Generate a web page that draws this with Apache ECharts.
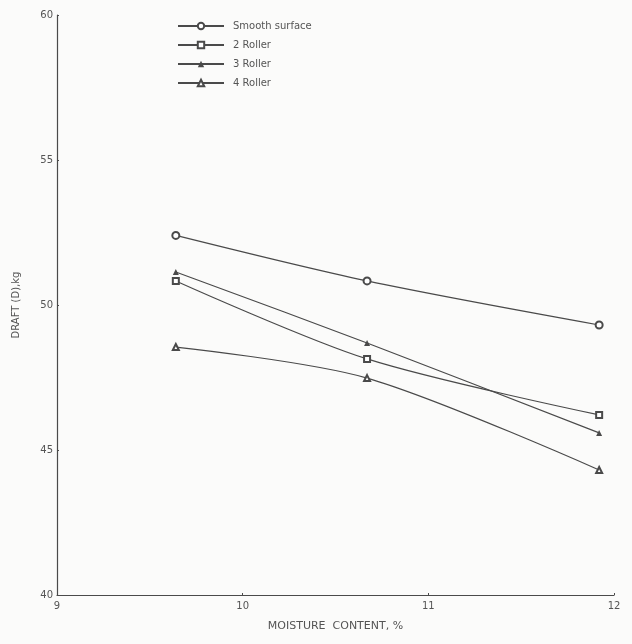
<!DOCTYPE html>
<html>
<head>
<meta charset="utf-8">
<script src="https://cdn.jsdelivr.net/npm/echarts@6/dist/echarts.min.js"></script>
<style>
  html, body { margin: 0; padding: 0; background: #fbfbfa; }
  #grafico { width: 632px; height: 644px; }
</style>
</head>
<body>
<div id="grafico"></div>
<script>
// Datos
const humedad = [9.64, 10.67, 11.92];
const superficieLisa = [52.4, 50.83, 49.31];
const rodillo2 = [50.83, 48.14, 46.21];
const rodillo3 = [51.14, 48.69, 45.59];
const rodillo4 = [48.55, 47.48, 44.31];
const nombres = ['Smooth surface', '2 Roller', '3 Roller', '4 Roller'];
const simbolos = ['emptyCircle', 'emptyRect', 'triangle', 'emptyTriangle'];

const tinta = '#4a4a4a';

function puntos(valores) {
    return humedad.map((x, i) => [x, valores[i]]);
}

const series = [superficieLisa, rodillo2, rodillo3, rodillo4].map((vals, i) => ({
    name: nombres[i],
    type: 'line',
    smooth: 0.3,
    data: puntos(vals),
    symbol: simbolos[i],
    symbolSize: i === 0 ? 7 : 6,
    lineStyle: { color: tinta, width: 1.2 },
    itemStyle: { color: tinta, borderWidth: 1.2 }
}));

const chart = echarts.init(document.getElementById('grafico'));

chart.setOption({
    backgroundColor: '#fbfbfa',
    animation: false,
    textStyle: { fontFamily: 'DejaVu Sans' },
    legend: {
        orient: 'vertical',
        left: 172,
        top: 16,
        itemGap: 9,
        itemWidth: 46,
        itemHeight: 8,
        data: nombres,
        textStyle: { color: '#555', fontSize: 10, padding: [0, 0, 0, 4] }
    },
    grid: { left: 57, right: 18, top: 15, bottom: 49 },
    xAxis: {
        type: 'value',
        min: 9,
        max: 12,
        interval: 1,
        name: 'MOISTURE  CONTENT, %',
        nameLocation: 'middle',
        nameGap: 26,
        nameTextStyle: { color: '#555', fontSize: 11 },
        axisLine: { lineStyle: { color: tinta, width: 1.2 } },
        axisTick: { show: true, length: 2, inside: true, lineStyle: { color: tinta } },
        axisLabel: { color: '#555', fontSize: 10, margin: 6 },
        splitLine: { show: false }
    },
    yAxis: {
        type: 'value',
        min: 40,
        max: 60,
        interval: 5,
        name: 'DRAFT (D),kg',
        nameLocation: 'middle',
        nameGap: 36,
        nameTextStyle: { color: '#555', fontSize: 10 },
        axisLine: { show: true, lineStyle: { color: tinta, width: 1.2 } },
        axisTick: { show: true, length: 2, inside: true, lineStyle: { color: tinta } },
        axisLabel: { color: '#555', fontSize: 10, margin: 4 },
        splitLine: { show: false }
    },
    series: series
});

window.addEventListener('resize', () => chart.resize());
</script>
</body>
</html>
